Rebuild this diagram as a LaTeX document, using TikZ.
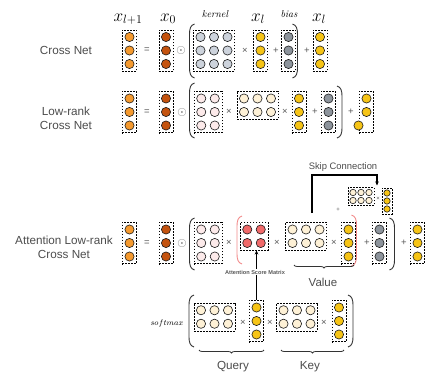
\documentclass[tikz,border=0pt]{standalone}
\usepackage{fontspec}
\newfontfamily\arialfont{Liberation Sans}
\usetikzlibrary{decorations.pathreplacing,arrows.meta}
\definecolor{corange}{HTML}{F59A2F}
\definecolor{cdark}{HTML}{C4530F}
\definecolor{ckern}{HTML}{CDD3DC}
\definecolor{cyel}{HTML}{F6C416}
\definecolor{cbias}{HTML}{8D949C}
\definecolor{cpink}{HTML}{FCEAEA}
\definecolor{cbeige}{HTML}{FEF1D6}
\definecolor{cred}{HTML}{F06A6A}
\definecolor{cparen}{HTML}{F28A8A}
\newcommand\cmat[8]{%
  \pgfmathsetmacro\mw{(#4-1)*#7+2*#8+1.1*#8}%
  \pgfmathsetmacro\mh{(#5-1)*#7+2*#8+1.1*#8}%
  \node[mbox, minimum width=\mw pt, minimum height=\mh pt] (#1) at (#2,#3) {};
  \foreach \i in {1,...,#4}{\foreach \j in {1,...,#5}{%
    \pgfmathsetmacro\px{#2+(\i-(#4+1)/2)*#7}%
    \pgfmathsetmacro\py{#3+(\j-(#5+1)/2)*#7}%
    \node[dot, minimum size=#8*2pt, fill=#6] (#1-\i-\j) at (\px,\py) {};
  }}%
}
\newcommand\mylpar[4][par]{\draw[#1] (#2+5,#3) .. controls (#2+1,#3+1) and (#2,#3+5) .. (#2,#3+10) -- (#2,#4-10) .. controls (#2,#4-5) and (#2+1,#4-1) .. (#2+5,#4);}
\newcommand\myrpar[4][par]{\draw[#1] (#2-5,#3) .. controls (#2-1,#3+1) and (#2,#3+5) .. (#2,#3+10) -- (#2,#4-10) .. controls (#2,#4-5) and (#2-1,#4-1) .. (#2-5,#4);}
\tikzset{
  mbox/.style={draw, dash pattern=on 1.8pt off 1.2pt, line width=0.7pt, inner sep=0pt, rectangle},
  dot/.style={circle, draw=black!90, line width=0.6pt, inner sep=0pt},
  op/.style={font=\arialfont\fontsize{9.5}{9.5}\selectfont, text=black!65, inner sep=0pt},
  odot/.style={font=\fontsize{12}{12}\selectfont, text=black!65, inner sep=0pt},
  sop/.style={font=\arialfont\fontsize{6}{6}\selectfont, text=black!65, inner sep=0pt},
  lbl/.style={font=\arialfont\fontsize{11.7}{14}\selectfont, text=black!70, align=center, inner sep=0pt},
  mlbl/.style={font=\fontsize{18}{18}\selectfont, anchor=base, inner sep=0pt},
  ilbl/.style={font=\fontsize{10}{10}\selectfont\itshape, anchor=base, inner sep=0pt},
  par/.style={line width=0.9pt, draw=black!80},
  rpar/.style={line width=0.9pt, draw=cparen},
  brace/.style={decorate, decoration={brace, amplitude=3pt, mirror}, line width=0.8pt, draw=black!80},
  conn/.style={line width=1.1pt, draw=black, -{Stealth[length=4pt,width=3.5pt]}},
}
\begin{document}
\begin{tikzpicture}[x=1pt, y=-1pt]
\useasboundingbox (0,0) rectangle (426,375);
% ---------- Row 1 : Cross Net ----------
\node[lbl] (l1) at (66,50.5) {Cross Net};
\node[mlbl] (t1) at (128,21) {$x_{l+1}$};
\node[mlbl] (t2) at (168,21) {$x_0$};
\node[ilbl] (t3) at (215,17) {kernel};
\node[mlbl] (t4) at (258,21) {$x_l$};
\node[ilbl] (t5) at (289,17) {bias};
\node[mlbl] (t6) at (319,21) {$x_l$};
\cmat{A1}{129.5}{50.5}{1}{3}{corange}{13.5}{4.6}
\node[op] (e1) at (147,50.5) {=};
\cmat{B1}{166}{50.5}{1}{3}{cdark}{13.5}{4.6}
\node[odot] (o1) at (181,50.5) {$\odot$};
\mylpar{189.5}{24}{78}
\cmat{K1}{214}{50.5}{3}{3}{ckern}{13.5}{4.6}
\node[op] (m1) at (245,50.5) {×};
\cmat{X1}{260.5}{50.5}{1}{3}{cyel}{13.5}{4.6}
\node[op] (p1) at (276,50.5) {+};
\cmat{Bi1}{288.5}{50.5}{1}{3}{cbias}{13.5}{4.6}
\myrpar{297.5}{24}{78}
\node[op] (p2) at (307,50.5) {+};
\cmat{F1}{320}{50.5}{1}{3}{cyel}{13.5}{4.6}
% ---------- Row 2 : Low-rank Cross Net ----------
\node[lbl] (l2) at (66,118.5) {Low-rank\\Cross Net};
\cmat{A2}{129.5}{112}{1}{3}{corange}{13.5}{4.6}
\node[op] (e2) at (147,112) {=};
\cmat{B2}{166}{112}{1}{3}{cdark}{13.5}{4.6}
\node[odot] (o2) at (182,112) {$\odot$};
\mylpar{189.5}{83}{138}
\cmat{P2}{208}{112}{2}{3}{cpink}{13.5}{4.6}
\node[op] (m2) at (229,112) {×};
\cmat{Be2}{257.5}{105.25}{3}{2}{cbeige}{13.5}{4.6}
\node[op] (m3) at (285,112) {×};
\cmat{X2}{299}{112}{1}{3}{cyel}{13.5}{4.6}
\node[op] (p3) at (315,112) {+};
\cmat{Bi2}{328.5}{112}{1}{3}{cbias}{13.5}{4.6}
\myrpar{342}{86}{138}
\node[op] (p4) at (351,112) {+};
\node[mbox, minimum width=14.26pt, minimum height=41.26pt] (F2) at (366.5,112) {};
\node[dot, minimum size=9.2pt, fill=cyel] (F2-1) at (366.5,98.5) {};
\node[dot, minimum size=9.2pt, fill=cyel] (F2-2) at (366.5,112) {};
\node[dot, minimum size=9.2pt, fill=cyel] (F2-3) at (358.5,125.5) {};
% ---------- Row 3 : Attention Low-rank Cross Net ----------
\node[lbl] (l3) at (64,247.5) {Attention Low-rank\\Cross Net};
\cmat{A3}{129.5}{243}{1}{3}{corange}{13.5}{4.6}
\node[op] (e3) at (147,243) {=};
\cmat{B3}{166}{243}{1}{3}{cdark}{13.5}{4.6}
\node[odot] (o3) at (182,243) {$\odot$};
\mylpar{189.5}{218}{270}
\cmat{P3}{208}{243}{2}{3}{cpink}{13.5}{4.6}
\node[op] (m4) at (229,243) {×};
\mylpar[rpar]{237}{216}{264}
\cmat{R3}{254}{236.25}{2}{2}{cred}{13.5}{4.6}
\node[op] (m5) at (277,243) {×};
\cmat{Be3}{306}{236.25}{3}{2}{cbeige}{13.5}{4.6}
\node[op] (m6) at (334,243) {×};
\cmat{X3}{348.5}{243}{1}{3}{cyel}{13.5}{4.6}
\myrpar[rpar]{356.5}{215}{266}
\node[op] (p5) at (367,243) {+};
\cmat{Bi3}{379.5}{243}{1}{3}{cbias}{13.5}{4.6}
\myrpar{394.5}{218}{270}
\node[op] (p6) at (404,243) {+};
\cmat{F3}{417.5}{243}{1}{3}{cyel}{13.5}{4.6}
% skip connection
\node[font=\arialfont\fontsize{9.4}{10}\selectfont, text=black!70, inner sep=0pt] (sk) at (343,167) {Skip Connection};
\cmat{S}{361}{196.5}{3}{2}{cbeige}{8}{3.2}
\node[sop] (sm) at (378,199) {×};
\cmat{SC}{387}{201}{1}{3}{cyel}{8}{3.2}
\node[sop] (sp) at (338,210) {+};
\coordinate (sk0) at (312,213);
\coordinate (skc) at (312,175);
\coordinate (sk1) at (377,185.5);
\draw[conn] (sk0) -- (skc) -| (sk1);
% value brace
\coordinate (vb1) at (294,265);
\coordinate (vb2) at (354,265);
\draw[brace] (vb1) -- (vb2);
\node[lbl, font=\arialfont\fontsize{11.5}{12}\selectfont] (val) at (323,282) {Value};
% ---------- Row 4 : softmax(Query x Key) ----------
\node[font=\fontsize{8}{8}\selectfont, inner sep=0pt] (sm4) at (167,323) {$softmax$};
\mylpar{189}{295}{347}
\cmat{Q4}{214.5}{317}{3}{2}{cbeige}{13.5}{4.6}
\node[op] (m7) at (243,323) {×};
\cmat{XQ}{256.5}{321}{1}{3}{cyel}{13.5}{4.6}
\node[op] (m8) at (270,323) {×};
\cmat{K4}{297}{317}{3}{2}{cbeige}{13.5}{4.6}
\node[op] (m9) at (324,323) {×};
\cmat{XK}{339}{321}{1}{3}{cyel}{13.5}{4.6}
\myrpar{353}{295}{347}
\coordinate (qb1) at (199,350);
\coordinate (qb2) at (264,350);
\coordinate (kb1) at (281,350);
\coordinate (kb2) at (344,350);
\draw[brace] (qb1) -- (qb2);
\draw[brace] (kb1) -- (kb2);
\node[lbl] (q) at (233,367) {Query};
\node[lbl] (k) at (310,367) {Key};
% attention score arrow
\draw[conn] (XQ.north) -- (XQ.north |- R3.south);
\node[font=\arialfont\bfseries\fontsize{5.6}{6}\selectfont, text=black!65, fill=white, inner sep=0.6pt] (asm) at (255,272) {Attention Score Matrix};
\end{tikzpicture}
\end{document}
